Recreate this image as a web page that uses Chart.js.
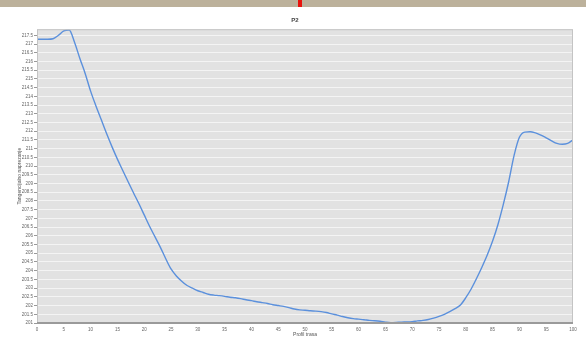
<!DOCTYPE html>
<html>
<head>
<meta charset="utf-8">
<script src="https://cdn.jsdelivr.net/npm/chart.js@4.4.0/dist/chart.umd.min.js"></script>
<style>
  body { margin: 0; background: #fff; }
  #wrap { position: relative; width: 586px; height: 347px; }
  #band { position: absolute; left: 0; top: 0; width: 586px; height: 7px; background: #bcb19b; }
  #mark { position: absolute; left: 298px; top: 0; width: 4px; height: 7px; background: #e8120c; }
  #graf { position: absolute; left: 0; top: 0; }
</style>
</head>
<body>
<div id="wrap">
  <div id="band"></div>
  <div id="mark"></div>
  <canvas id="graf" width="586" height="347"></canvas>
</div>
<script>
// profil (x) i vrijednosti (y), ocitano sa slike
const profil = [
  0, 1, 2, 3, 4, 5, 6, 7, 8, 9,
  10, 11, 12, 13, 14, 15, 16, 17, 18, 19,
  20, 21, 22, 23, 24, 25, 26, 27, 28, 29,
  30, 31, 32, 33, 34, 35, 36, 37, 38, 39,
  40, 41, 42, 43, 44, 45, 46, 47, 48, 49,
  50, 51, 52, 53, 54, 55, 56, 57, 58, 59,
  60, 61, 62, 63, 64, 65, 66, 67, 68, 69,
  70, 71, 72, 73, 74, 75, 76, 77, 78, 79,
  80, 81, 82, 83, 84, 85, 86, 87, 88, 89,
  90, 91, 92, 93, 94, 95, 96, 97, 98, 99, 100
];
const naprezanje = [
  217.27, 217.27, 217.27, 217.3, 217.5, 217.75, 217.8, 217.1, 216.17, 215.3,
  214.3, 213.45, 212.65, 211.85, 211.1, 210.4, 209.75, 209.1, 208.47, 207.85,
  207.2, 206.55, 205.95, 205.35, 204.7, 204.1, 203.7, 203.4, 203.15, 203.0,
  202.85, 202.75, 202.65, 202.6, 202.57, 202.53, 202.48, 202.45, 202.4, 202.33,
  202.28, 202.22, 202.17, 202.12, 202.05, 202.0, 201.95, 201.88, 201.8, 201.75,
  201.73, 201.7, 201.68, 201.65, 201.6, 201.52, 201.45, 201.37, 201.3, 201.25,
  201.22, 201.19, 201.15, 201.13, 201.1, 201.05, 201.02, 201.03, 201.05, 201.06,
  201.08, 201.12, 201.15, 201.2, 201.28, 201.38, 201.5, 201.65, 201.82, 202.03,
  202.45, 202.95, 203.55, 204.2, 204.9, 205.7, 206.65, 207.8, 209.1, 210.6,
  211.65, 211.95, 211.97, 211.9, 211.78, 211.62, 211.45, 211.3, 211.25, 211.3, 211.5
];
const yMin = 201;
const yMax = 217.85;
const yKorak = 0.5;
const xKorak = 5;

const pozadina = {
  id: "pozadina",
  beforeDraw(chart) {
    const { ctx, chartArea: a } = chart;
    ctx.save();
    ctx.fillStyle = "#e2e2e2";
    ctx.fillRect(a.left, a.top, a.right - a.left, a.bottom - a.top);
    ctx.restore();
  },
  afterDraw(chart) {
    const { ctx, chartArea: a } = chart;
    ctx.save();
    ctx.strokeStyle = "#c4c4c4";
    ctx.lineWidth = 1;
    ctx.strokeRect(a.left + 0.5, a.top + 0.5, a.right - a.left - 1, a.bottom - a.top);
    ctx.strokeStyle = "#9a9a9a";
    ctx.lineWidth = 2;
    ctx.beginPath();
    ctx.moveTo(a.left, a.bottom);
    ctx.lineTo(a.right, a.bottom);
    ctx.stroke();
    ctx.restore();
  }
};

new Chart(document.getElementById("graf"), {
  type: "line",
  data: {
    datasets: [{
      label: "P2",
      data: profil.map((x, i) => ({ x: x, y: naprezanje[i] })),
      borderColor: "#5b90dc",
      borderWidth: 1.4,
      pointRadius: 0,
      cubicInterpolationMode: "monotone",
      fill: false
    }]
  },
  options: {
    responsive: false,
    animation: false,
    layout: { padding: { left: 17, right: 13, top: 0, bottom: 9 } },
    plugins: {
      legend: { display: false },
      tooltip: { enabled: false },
      title: {
        display: true,
        text: "P2",
        color: "#444",
        font: { family: "Arial, Liberation Sans", size: 6, weight: "bold" },
        padding: { top: 17, bottom: 5 }
      }
    },
    scales: {
      x: {
        type: "linear",
        min: 0,
        max: 100,
        ticks: {
          stepSize: xKorak,
          color: "#666",
          font: { family: "Arial, Liberation Sans", size: 4.5 },
          padding: 1,
          maxRotation: 0
        },
        grid: { display: false, drawOnChartArea: false, tickLength: 3, color: "#888" },
        border: { display: false },
        title: {
          display: true,
          text: "Profil trasa",
          color: "#555",
          font: { family: "Arial, Liberation Sans", size: 5 },
          padding: { top: 0, bottom: 0 }
        },
        afterFit(s) { s.height = 15; }
      },
      y: {
        type: "linear",
        min: yMin,
        max: yMax,
        afterBuildTicks(s) {
          s.ticks = s.ticks.filter(t => Math.abs(t.value / yKorak - Math.round(t.value / yKorak)) < 1e-6);
        },
        ticks: {
          stepSize: yKorak,
          color: "#666",
          font: { family: "Arial, Liberation Sans", size: 4.5 },
          padding: 1,
          autoSkip: false,
          callback: v => String(Math.round(v * 10) / 10)
        },
        grid: { color: "#f4f4f4", lineWidth: 1, tickLength: 3, tickColor: "#999" },
        border: { display: false },
        title: {
          display: true,
          text: "Tangencijalno naprezanje",
          color: "#555",
          font: { family: "Arial, Liberation Sans", size: 5 },
          padding: { top: 0, bottom: 2 }
        },
        afterFit(s) { s.width = 20; }
      }
    }
  },
  plugins: [pozadina]
});
</script>
</body>
</html>
